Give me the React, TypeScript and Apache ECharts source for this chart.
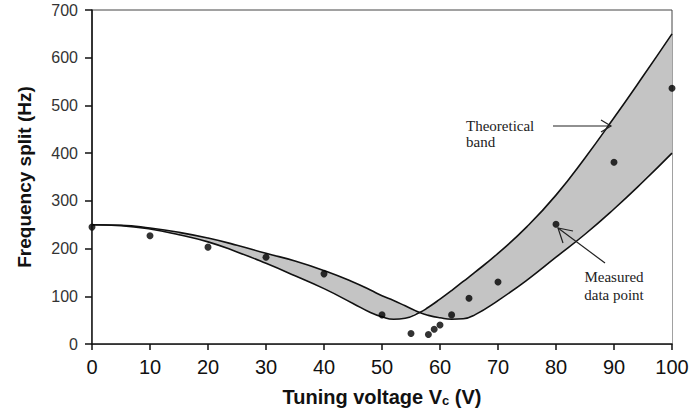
import React, { useEffect, useRef } from "react";
import * as echarts from "echarts";

// Measured data points
const MEAS_X = [0, 10, 20, 30, 40, 50, 55, 58, 59, 60, 62, 65, 70, 80, 90, 100];
const MEAS_Y = [245, 227, 203, 182, 147, 61, 22, 20, 31, 40, 61, 96, 130, 251, 381, 536];

// Theoretical band boundary curves
const BAND_X = [0, 5, 10, 15, 20, 25, 30, 35, 40, 45, 48, 50, 52, 54, 56.5, 58, 60, 62, 64, 66, 70, 75, 80, 85, 90, 95, 100];
// curve that is upper at left, lower at right
const CURVE_A = [250, 249, 243, 234, 222, 207, 190, 174, 154, 130, 113, 101, 91, 80, 66, 60, 55, 52, 53, 61, 91, 134, 182, 230, 283, 340, 400];
// curve that is lower at left, upper at right
const CURVE_B = [250, 248, 241, 229, 214, 193, 169, 143, 116, 85, 66, 57, 52, 54, 66, 77, 94, 112, 131, 150, 190, 246, 312, 390, 474, 561, 650];

const X_TICKS = [0, 10, 20, 30, 40, 50, 60, 70, 80, 90, 100];
const Y_TICKS = [0, 100, 200, 300, 400, 500, 600, 700];

export default function App() {
  const ref = useRef<HTMLDivElement>(null);
  useEffect(() => {
    if (!ref.current) return;
    const chart = echarts.init(ref.current, null, { renderer: "svg" });
    const upperEnv = BAND_X.map((x, i) => [x, Math.max(CURVE_A[i], CURVE_B[i])]);
    const lowerEnv = BAND_X.map((x, i) => [x, Math.min(CURVE_A[i], CURVE_B[i])]);
    const curveA = BAND_X.map((x, i) => [x, CURVE_A[i]]);
    const curveB = BAND_X.map((x, i) => [x, CURVE_B[i]]);
    const meas = MEAS_X.map((x, i) => [x, MEAS_Y[i]]);
    const smooth = 0.5;
    const serif = "Liberation Serif";
    chart.setOption({
      animation: false,
      backgroundColor: "#fff",
      grid: { left: 92, right: 21, top: 10, bottom: 72, show: true, borderColor: "#444", borderWidth: 1 },
      xAxis: {
        type: "value",
        z: 10,
        min: X_TICKS[0],
        max: X_TICKS[X_TICKS.length - 1],
        interval: 10,
        name: "Tuning voltage V{sub|c} (V)",
        nameLocation: "middle",
        nameGap: 42,
        nameTextStyle: {
          fontFamily: "Liberation Sans",
          fontWeight: "bold",
          fontSize: 20,
          color: "#111",
          rich: {
            sub: { fontFamily: "Liberation Sans", fontWeight: "bold", fontSize: 13, color: "#111", verticalAlign: "bottom", padding: [8, 0, 0, 0] },
          },
        },
        axisLine: { lineStyle: { color: "#111", width: 1.5 } },
        axisTick: { length: 6, lineStyle: { color: "#111", width: 1.5 } },
        axisLabel: { fontFamily: "Liberation Sans", fontSize: 20, color: "#111", margin: 13 },
        splitLine: { show: false },
      },
      yAxis: {
        type: "value",
        z: 10,
        min: Y_TICKS[0],
        max: Y_TICKS[Y_TICKS.length - 1],
        interval: 100,
        name: "Frequency split (Hz)",
        nameLocation: "middle",
        nameGap: 58,
        nameTextStyle: { fontFamily: "Liberation Sans", fontWeight: "bold", fontSize: 19, color: "#111" },
        axisLine: { show: true, lineStyle: { color: "#111", width: 1.5 } },
        axisTick: { show: true, length: 7, lineStyle: { color: "#111", width: 1.5 } },
        axisLabel: { fontFamily: "Liberation Sans", fontSize: 16, color: "#333", margin: 14 },
        splitLine: { show: false },
      },
      series: [
        {
          type: "line",
          data: upperEnv,
          smooth,
          symbol: "none",
          lineStyle: { opacity: 0 },
          areaStyle: { color: "#c4c4c4", opacity: 1 },
          z: 1,
          silent: true,
        },
        {
          type: "line",
          data: lowerEnv,
          smooth,
          symbol: "none",
          lineStyle: { opacity: 0 },
          areaStyle: { color: "#ffffff", opacity: 1 },
          z: 2,
          silent: true,
        },
        {
          type: "line",
          data: curveA,
          smooth,
          symbol: "none",
          lineStyle: { color: "#111", width: 1.6 },
          z: 3,
        },
        {
          type: "line",
          data: curveB,
          smooth,
          symbol: "none",
          lineStyle: { color: "#111", width: 1.6 },
          z: 3,
        },
        {
          type: "scatter",
          data: meas,
          symbol: "circle",
          symbolSize: 7,
          itemStyle: { color: "#000" },
          z: 5,
        },
      ],
      graphic: [
        { type: "text", z: 100, x: 466, y: 126, style: { text: "Theoretical", fontFamily: serif, fontSize: 15, fill: "#222", align: "left", verticalAlign: "middle" } },
        { type: "text", z: 100, x: 466, y: 142, style: { text: "band", fontFamily: serif, fontSize: 15, fill: "#222", align: "left", verticalAlign: "middle" } },
        { type: "line", z: 100, shape: { x1: 553, y1: 126, x2: 611, y2: 126 }, style: { stroke: "#222", lineWidth: 1.2 } },
        { type: "polyline", z: 100, shape: { points: [[601, 120], [611, 126], [601, 132]] }, style: { stroke: "#222", lineWidth: 1.2, fill: null } },
        { type: "text", z: 100, x: 614, y: 277, style: { text: "Measured", fontFamily: serif, fontSize: 15, fill: "#222", align: "center", verticalAlign: "middle" } },
        { type: "text", z: 100, x: 614, y: 295, style: { text: "data point", fontFamily: serif, fontSize: 15, fill: "#222", align: "center", verticalAlign: "middle" } },
        { type: "line", z: 100, shape: { x1: 605, y1: 263, x2: 558, y2: 228 }, style: { stroke: "#222", lineWidth: 1.2 } },
        { type: "polyline", z: 100, shape: { points: [[573, 231], [558, 228], [563, 243]] }, style: { stroke: "#222", lineWidth: 1.2, fill: null } },
      ],
    });
    return () => chart.dispose();
  }, []);
  return <div ref={ref} style={{ width: 693, height: 416, position: "absolute", left: 0, top: 0 }} />;
}
